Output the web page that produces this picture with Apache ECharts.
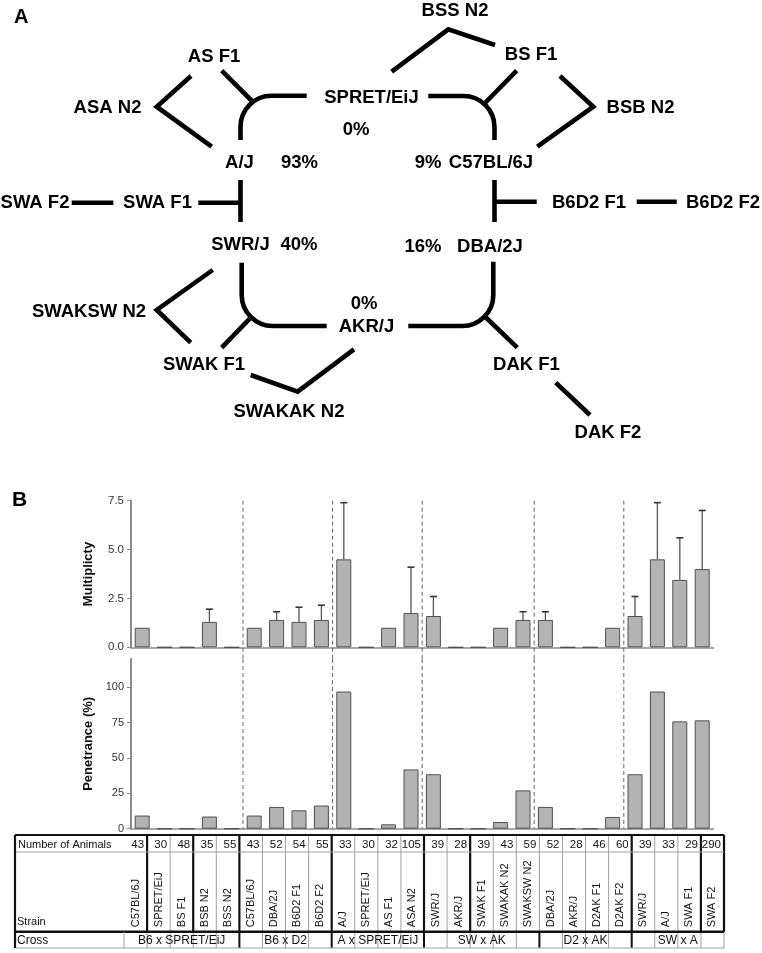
<!DOCTYPE html>
<html><head><meta charset="utf-8">
<script src="https://cdn.jsdelivr.net/npm/echarts@6/dist/echarts.min.js"></script>
<style>html,body{margin:0;padding:0;background:#fff}#c{width:762px;height:953px}</style>
</head><body><div id="c"></div>
<script>
// ---------- DATA ----------
const strains = ['C57BL/6J','SPRET/EiJ','BS F1','BSB N2','BSS N2','C57BL/6J','DBA/2J','B6D2 F1','B6D2 F2','A/J','SPRET/EiJ','AS F1','ASA N2','SWR/J','AKR/J','SWAK F1','SWAKAK N2','SWAKSW N2','DBA/2J','AKR/J','D2AK F1','D2AK F2','SWR/J','A/J','SWA F1','SWA F2'];
const animals = [43,30,48,35,55,43,52,54,55,33,30,32,105,39,28,39,43,59,52,28,46,60,39,33,29,290];
const multiplicity = [1.0,0,0,1.3,0,1.0,1.4,1.3,1.4,4.5,0,1.0,1.75,1.6,0,0,1.0,1.4,1.4,0,0,1.0,1.6,4.5,3.45,4.0];
const multiplicitySD = [null,null,null,0.65,null,null,0.42,0.75,0.75,2.9,null,null,2.35,1.0,null,null,null,0.42,0.42,null,null,null,1.0,2.9,2.15,3.0];
const penetrance = [9.3,0,0,8.6,0,9.3,15.4,13.0,16.4,97,0,3.1,41.9,38.5,0,0,4.7,27.1,15.4,0,0,8.3,38.5,97,75.9,76.6];
const crossGroups = [['B6 x SPRET/EiJ',0,5],['B6 x D2',5,9],['A x SPRET/EiJ',9,13],['SW x AK',13,18],['D2 x AK',18,22],['SW x A',22,26]];
const crossBoundaries = [5,9,13,18,22];
const multiplicityTicks = [0,2.5,5,7.5];
const penetranceTicks = [0,25,50,75,100];
const tableRows = ['Number of Animals','Strain','Cross'];

// Panel A schematic (diagram coordinates)
const diagramLabels = [
 ['SPRET/EiJ',371.5,98],['0%',356,130],
 ['AS F1',214,57],['ASA N2',107.5,108],
 ['A/J',239.5,163],['93%',299.5,163],
 ['SWA F2',35,203],['SWA F1',157.5,203],
 ['BSS N2',455,11],['BS F1',531,55],['BSB N2',640.5,108],
 ['9%',428,163],['C57BL/6J',491,163],
 ['B6D2 F1',589,203],['B6D2 F2',723,203],
 ['SWR/J',240.5,245],['40%',299,245],
 ['SWAKSW N2',89,311.5],['SWAK F1',204,365],['SWAKAK N2',289,411.5],
 ['0%',364,303.5],['AKR/J',366.5,326.5],
 ['16%',423,246.5],['DBA/2J',490,246.5],
 ['DAK F1',526.5,365],['DAK F2',608,433]
];
const diagramLines = [
 [[191,76],[156.7,106.7],[211.7,146.7]],
 [[221.7,70.7],[252,101]],
 [[71.7,202.7],[113.3,202.7]],
 [[198.3,202.7],[240.5,202.7]],
 [[240.5,180],[240.5,222]],
 [[391.7,71.7],[448.3,29.3],[495,45]],
 [[516.7,70.7],[485,103]],
 [[560,76],[593.3,106.7],[537.3,146.7]],
 [[494.5,180],[494.5,222]],
 [[494.5,201.7],[536.7,201.7]],
 [[636.7,201.7],[676.7,201.7]],
 [[212.7,270],[156.7,310],[190.7,342.7]],
 [[221.7,347.7],[251.7,316.7]],
 [[250.7,375],[297.7,391.7],[354,349.3]],
 [[483.3,315],[517.3,347.7]],
 [[555.7,382.7],[590,415]]
];
const diagramCorners = [
 [[240.5,140],[240.5,95.7],[306.7,95.7]],
 [[428.3,96],[494.5,96],[494.5,140]],
 [[241.7,262.7],[241.7,326],[326.7,326]],
 [[493.3,261.7],[493.3,326],[408.3,326]]
];

// ---------- STYLE ----------
const FF = '"Liberation Sans", Arial, Helvetica, sans-serif';
const axisGrey = '#8a8a8a';
const thickCols = [1,3,5,9,13,15,22,25,26];
const cornerR = 31;

const chart = echarts.init(document.getElementById('c'), null, {renderer:'canvas'});

function renderDiagram(params, api){
  const ch = [];
  const ls = {stroke:'#000', lineWidth:4.6, fill:'none', lineCap:'butt', lineJoin:'miter'};
  diagramLines.forEach(pts => ch.push({type:'polyline', shape:{points: pts.map(p => api.coord(p))}, style: ls}));
  diagramCorners.forEach(([a, c, b]) => {
    const p0 = api.coord(a), pc = api.coord(c), p1 = api.coord(b);
    const u = (p, q) => { const dx = p[0]-q[0], dy = p[1]-q[1], l = Math.hypot(dx, dy); return [dx/l, dy/l]; };
    const d0 = u(p0, pc), d1 = u(p1, pc);
    const s = [pc[0]+d0[0]*cornerR, pc[1]+d0[1]*cornerR];
    const e = [pc[0]+d1[0]*cornerR, pc[1]+d1[1]*cornerR];
    const k = 0.5523;
    const c1 = [s[0]+(pc[0]-s[0])*k, s[1]+(pc[1]-s[1])*k];
    const c2 = [e[0]+(pc[0]-e[0])*k, e[1]+(pc[1]-e[1])*k];
    const d = `M${p0[0]} ${p0[1]} L${s[0]} ${s[1]} C${c1[0]} ${c1[1]} ${c2[0]} ${c2[1]} ${e[0]} ${e[1]} L${p1[0]} ${p1[1]}`;
    ch.push({type:'path', shape:{pathData:d}, style: ls});
  });
  diagramLabels.forEach(([t, x, y]) => {
    const p = api.coord([x, y]);
    ch.push({type:'text', x:p[0], y:p[1], style:{text:t, fill:'#000', font:'bold 18.5px ' + FF, align:'center', verticalAlign:'middle'}});
  });
  return {type:'group', children: ch};
}

function renderErr(params, api){
  const x = api.value(0), m = api.value(1), sd = api.value(2);
  const p0 = api.coord([x, m]), p1 = api.coord([x, m + sd]);
  return {type:'group', children:[
    {type:'line', shape:{x1:p0[0], y1:p0[1], x2:p1[0], y2:p1[1]}, style:{stroke:'#555', lineWidth:1.3}},
    {type:'line', shape:{x1:p1[0]-3.5, y1:p1[1], x2:p1[0]+3.5, y2:p1[1]}, style:{stroke:'#333', lineWidth:1.6}}
  ]};
}

function dividerRenderer(lo, hi){
  return function(params, api){
    const d = api.value(0);
    const a = api.coord([d, hi]), b = api.coord([d, lo]);
    return {type:'line', shape:{x1:a[0], y1:a[1], x2:b[0], y2:b[1]}, style:{stroke:'#666', lineWidth:1, lineDash:[4,3]}};
  };
}

function renderTableColumn(params, api){
  const i = api.value(0);
  const xl = api.coord([i, 0])[0], xr = api.coord([i+1, 0])[0];
  const y = v => api.coord([0, v])[1];
  const yTop = y(0), yR1 = y(17), yR2 = y(96.7), yBot = y(113);
  const ch = [
    {type:'line', shape:{x1:xr, y1:yTop, x2:xr, y2:yBot}, style:{stroke:'#a0a0a0', lineWidth:1}},
    {type:'text', x:xr-3, y:(yTop+yR1)/2+1, style:{text:String(animals[i]), align:'right', verticalAlign:'middle', font:'11.5px ' + FF, fill:'#111'}},
    {type:'text', x:(xl+xr)/2, y:yR2-4.5, rotation:Math.PI/2, style:{text:strains[i], align:'left', verticalAlign:'middle', font:'11px ' + FF, fill:'#111'}}
  ];
  if (thickCols.includes(i+1)) ch.push({type:'line', shape:{x1:xr, y1:yTop, x2:xr, y2:yR2}, style:{stroke:'#111', lineWidth:2.2}});
  if (crossBoundaries.includes(i+1)) ch.push({type:'line', shape:{x1:xr, y1:yR2, x2:xr, y2:yBot}, style:{stroke:'#111', lineWidth:2}});
  return {type:'group', children: ch};
}

function renderTableFrame(params, api){
  const cs = params.coordSys;
  const xL = cs.x, xR = api.coord([26, 0])[0], x0 = api.coord([0, 0])[0];
  const y = v => api.coord([0, v])[1];
  const ch = [];
  const hl = (yy, color, w) => ch.push({type:'line', shape:{x1:xL, y1:yy, x2:xR, y2:yy}, style:{stroke:color, lineWidth:w}});
  hl(y(17), '#a0a0a0', 1);
  hl(y(113), '#a0a0a0', 1);
  hl(y(0), '#111', 2.2);
  hl(y(96.7), '#111', 2.5);
  ch.push({type:'line', shape:{x1:xL, y1:y(0), x2:xL, y2:y(113)}, style:{stroke:'#111', lineWidth:2.2}});
  ch.push({type:'line', shape:{x1:x0, y1:y(96.7), x2:x0, y2:y(113)}, style:{stroke:'#a0a0a0', lineWidth:1}});
  const lf = '11px ' + FF;
  ch.push({type:'text', x:xL+3, y:(y(0)+y(17))/2+1, style:{text:tableRows[0], font:lf, fill:'#111', align:'left', verticalAlign:'middle'}});
  ch.push({type:'text', x:xL+2, y:y(96.7)-10, style:{text:tableRows[1], font:lf, fill:'#111', align:'left', verticalAlign:'middle'}});
  ch.push({type:'text', x:xL+2, y:(y(96.7)+y(113))/2+1, style:{text:tableRows[2], font:'12px ' + FF, fill:'#111', align:'left', verticalAlign:'middle'}});
  crossGroups.forEach(([name, s, e]) => {
    const xc = (api.coord([s, 0])[0] + api.coord([e, 0])[0]) / 2;
    ch.push({type:'text', x:xc, y:(y(96.7)+y(113))/2+1, style:{text:name, font:'12px ' + FF, fill:'#111', align:'center', verticalAlign:'middle'}});
  });
  return {type:'group', children: ch};
}

const catAxis = (gi) => ({type:'category', gridIndex:gi, data:strains, boundaryGap:true,
  axisTick:{show:false}, axisLabel:{show:false}, axisLine:{lineStyle:{color:axisGrey, width:1.5}}});
const hidVal = (gi, min, max, inverse) => ({type:'value', gridIndex:gi, min, max, inverse:!!inverse, show:false, splitLine:{show:false}});

const option = {
  animation:false,
  backgroundColor:'#fff',
  title:[
    {text:'A', left:14, top:7, padding:0, textStyle:{fontSize:20, fontWeight:'bold', color:'#000', fontFamily:FF}},
    {text:'B', left:12, top:490, padding:0, textStyle:{fontSize:21, fontWeight:'bold', color:'#000', fontFamily:FF}}
  ],
  grid:[
    {left:0, top:0, width:762, height:440},
    {left:131, top:500.7, width:582.4, height:146.6},
    {left:131, top:659, width:582.4, height:169.7},
    {left:15, top:835, width:709, height:113}
  ],
  xAxis:[
    hidVal(0, 0, 762),
    catAxis(1),
    hidVal(1, 0, 26),
    catAxis(2),
    hidVal(2, 0, 26),
    hidVal(3, -109/(600/26), 26)
  ],
  yAxis:[
    hidVal(0, 0, 440, true),
    {type:'value', gridIndex:1, min:0, max:7.5, interval:2.5,
      name:'Multiplicty', nameLocation:'middle', nameGap:36,
      nameTextStyle:{fontWeight:'bold', fontSize:13, color:'#111', fontFamily:FF},
      axisLine:{show:true, lineStyle:{color:axisGrey, width:2}},
      axisTick:{show:true, length:4, lineStyle:{color:axisGrey}},
      axisLabel:{fontSize:11.5, color:'#333', fontFamily:FF, margin:7, formatter:v => v.toFixed(1)},
      splitLine:{show:false}},
    {type:'value', gridIndex:2, min:0, max:120, interval:25,
      name:'Penetrance (%)', nameLocation:'middle', nameGap:36,
      nameTextStyle:{fontWeight:'bold', fontSize:13, color:'#111', fontFamily:FF},
      axisLine:{show:true, lineStyle:{color:axisGrey, width:2}},
      axisTick:{show:true, length:4, lineStyle:{color:axisGrey}, customValues:penetranceTicks},
      axisLabel:{fontSize:11, color:'#333', fontFamily:FF, margin:7,
        formatter:v => penetranceTicks.includes(v) ? String(v) : ''},
      splitLine:{show:false}},
    hidVal(3, 0, 113, true)
  ],
  series:[
    {type:'custom', xAxisIndex:0, yAxisIndex:0, data:[[0,0]], renderItem:renderDiagram, silent:true},
    {type:'custom', xAxisIndex:2, yAxisIndex:1, data:crossBoundaries.map(d => [d, 0]), renderItem:dividerRenderer(-0.62, 7.5), silent:true, z:1},
    {type:'custom', xAxisIndex:4, yAxisIndex:2, data:crossBoundaries.map(d => [d, 0]), renderItem:dividerRenderer(0, 120), silent:true, z:1},
    {type:'bar', xAxisIndex:1, yAxisIndex:1, data:multiplicity, barWidth:15,
      itemStyle:{color:'#b3b3b3', borderColor:'#505050', borderWidth:1}, z:3},
    {type:'custom', xAxisIndex:1, yAxisIndex:1, z:4,
      data:multiplicity.map((m, i) => multiplicitySD[i] == null ? null : [i, m, multiplicitySD[i]]).filter(d => d),
      renderItem:renderErr, silent:true},
    {type:'bar', xAxisIndex:3, yAxisIndex:2, data:penetrance, barWidth:15,
      itemStyle:{color:'#b3b3b3', borderColor:'#505050', borderWidth:1}, z:3},
    {type:'custom', xAxisIndex:5, yAxisIndex:3, data:strains.map((s, i) => [i, 0]), renderItem:renderTableColumn, silent:true},
    {type:'custom', xAxisIndex:5, yAxisIndex:3, data:[[0,0]], renderItem:renderTableFrame, silent:true}
  ]
};
chart.setOption(option);
</script></body></html>
